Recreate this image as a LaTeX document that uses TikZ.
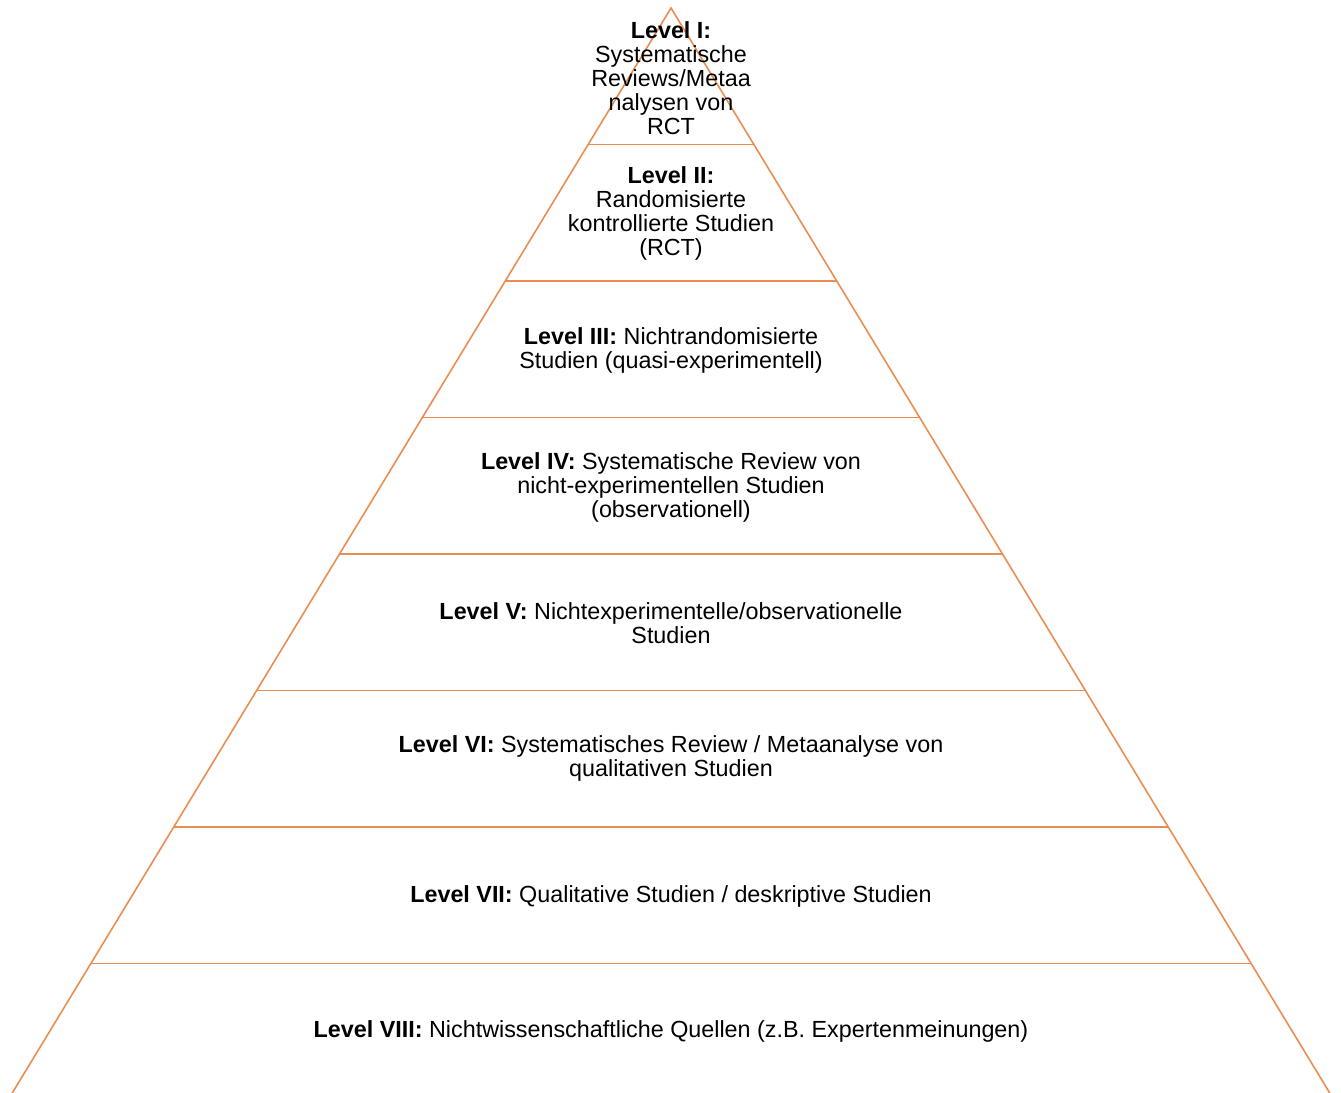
\documentclass[tikz,border=0pt]{standalone}
\usepackage{fontspec}
\setmainfont{Liberation Sans}
\usetikzlibrary{positioning,calc}
\definecolor{pyrline}{RGB}{232,142,82}

\begin{document}
\begin{tikzpicture}[
    x=0.75pt, y=-0.75pt,
    level/.style={align=center, inner sep=0pt, font=\fontsize{17.5}{18}\selectfont},
    edge/.style={draw=pyrline, line width=1.2pt},
]
    \useasboundingbox (0,0) rectangle (1341,1092);
    \clip (0,0) rectangle (1341,1092);

    % pyramid outline
    \coordinate (top) at (671,8);
    \coordinate (botL) at (8,1100);
    \coordinate (botR) at (1334,1100);
    \draw[edge] (botL) -- (top) -- (botR);
    \foreach \k in {1,...,7}
        \draw[edge] ($(top)!\k/8!(botL)$) -- ($(top)!\k/8!(botR)$);

    % levels
    \node[level] (lvI) at (671,78)
        {\textbf{Level I:}\\Systematische\\Reviews/Metaa\\nalysen von\\RCT};
    \node[level] (lvII) at (671,213)
        {\textbf{Level II:}\\Randomisierte\\kontrollierte Studien\\(RCT)};
    \node[level] (lvIII) at (671,350)
        {\textbf{Level III:} Nichtrandomisierte\\Studien (quasi-experimentell)};
    \node[level] (lvIV) at (671,487)
        {\textbf{Level IV:} Systematische Review von\\nicht-experimentellen Studien\\(observationell)};
    \node[level] (lvV) at (671,623)
        {\textbf{Level V:} Nichtexperimentelle/observationelle\\Studien};
    \node[level] (lvVI) at (671,758)
        {\textbf{Level VI:} Systematisches Review / Metaanalyse von\\qualitativen Studien};
    \node[level] (lvVII) at (671,896)
        {\textbf{Level VII:} Qualitative Studien / deskriptive Studien};
    \node[level] (lvVIII) at (671,1031)
        {\textbf{Level VIII:} Nichtwissenschaftliche Quellen (z.B. Expertenmeinungen)};
\end{tikzpicture}
\end{document}
